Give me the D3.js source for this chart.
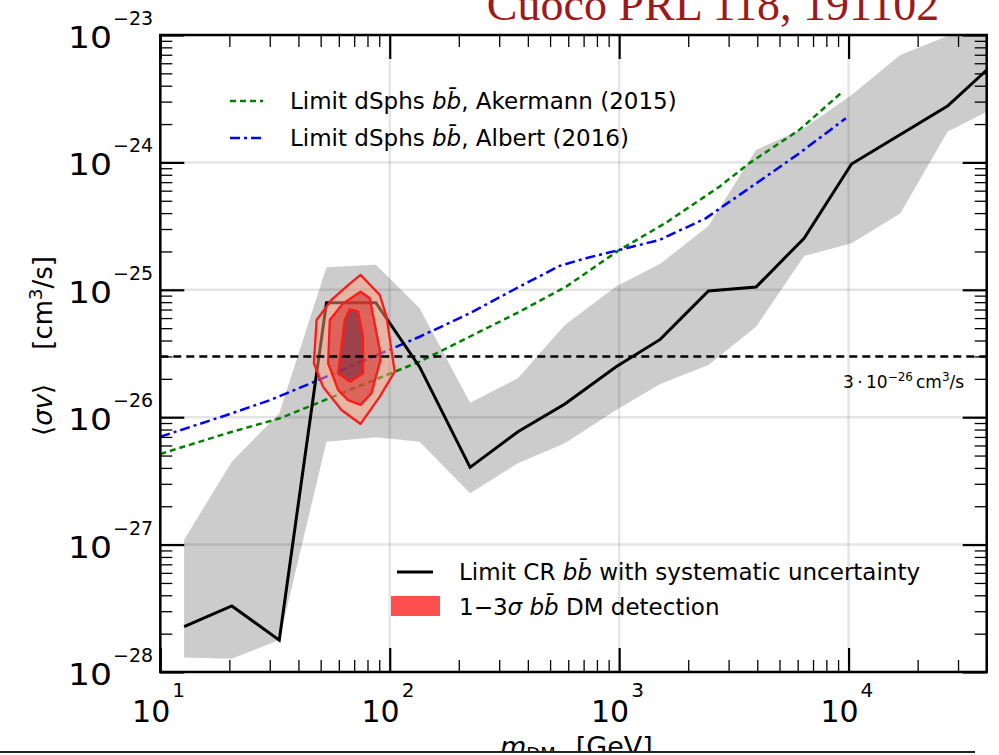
<!DOCTYPE html>
<html>
<head>
<meta charset="utf-8">
<script src="https://cdn.jsdelivr.net/npm/d3@7"></script>
<style>
  body { margin: 0; background: #fff; }
  svg { display: block; font-family: "DejaVu Sans", sans-serif; }
</style>
</head>
<body>
<svg id="chart" width="999" height="755"></svg>
<script>

// data (mass in GeV, <sigma v> in cm^3/s)
const massGrid  = [12.7, 20.5, 33, 53, 87, 135, 224, 362, 580, 970, 1510, 2450, 3950, 6400, 10300, 16800, 27000, 40000];
const limitCR   = [2.27e-28, 3.30e-28, 1.78e-28, 7.92e-26, 7.92e-26, 2.48e-26, 4.04e-27, 7.69e-27, 1.27e-26, 2.49e-26, 4.08e-26, 9.79e-26, 1.05e-25, 2.54e-25, 9.71e-25, null, 2.77e-24, 5.31e-24];
const bandUpper = [1.09e-27, 4.48e-27, 1.07e-26, 1.50e-25, 1.57e-25, 7.16e-26, 1.30e-26, 2.02e-26, 5.29e-26, 1.06e-25, 1.60e-25, 3.17e-25, 1.25e-24, 1.85e-24, 3.38e-24, 6.97e-24, 9.8e-24, 1.4e-23];
const bandLower = [1.30e-28, 1.27e-28, 1.78e-28, 6.42e-27, 6.95e-27, 6.42e-27, 2.53e-27, 4.35e-27, 6.24e-27, 1.14e-26, 1.82e-26, 2.57e-26, 5.13e-26, 1.84e-25, 2.32e-25, 3.98e-25, 1.74e-24, 2.50e-24];

const massAkermann  = [10, 19.5, 33.2, 53, 135, 223, 368, 588, 1000, 1600, 2735, 3690, 6100, 9420];
const limitAkermann = [5.14e-27, 7.48e-27, 9.8e-27, 1.38e-26, 2.73e-26, 4.28e-26, 6.73e-26, 1.06e-25, 2.05e-25, 3.36e-25, 6.45e-25, 9.84e-25, 1.80e-24, 3.59e-24];

const massAlbert  = [10, 19.5, 30, 47, 135, 223, 368, 550, 716, 1073, 1497, 2384, 3955, 6100, 9726];
const limitAlbert = [7.03e-27, 1.04e-26, 1.36e-26, 1.90e-26, 4.28e-26, 6.54e-26, 1.06e-25, 1.54e-25, 1.77e-25, 2.12e-25, 2.46e-25, 3.64e-25, 6.85e-25, 1.18e-24, 2.22e-24];

// detection contours [mass, sigmav]
const contour3sig = [[74.6,1.31e-25],[90.5,9.10e-26],[96.8,6.15e-26],[105.1,2.28e-26],[90.5,1.45e-26],[74.6,8.85e-27],[61.6,1.14e-26],[51.2,1.73e-26],[46.7,2.65e-26],[47.2,3.58e-26],[48.0,5.79e-26],[55.7,8.32e-26],[67.0,1.12e-25]];
const contour2sig = [[74.6,9.66e-26],[81.8,8.58e-26],[90.5,3.37e-26],[91.1,2.81e-26],[83.2,1.54e-26],[74.6,1.25e-26],[65.8,1.36e-26],[59.6,1.63e-26],[53.9,2.65e-26],[54.8,5.79e-26],[62.6,7.83e-26]];
const contour1sig = [[67.0,7.03e-26],[72.8,6.73e-26],[76.5,4.28e-26],[76.5,2.21e-26],[67.0,1.90e-26],[59.6,2.21e-26],[61.6,3.58e-26],[63.7,5.79e-26]];

const thermalXsec = 3e-26;

// tick labels (exponents)
const xDecades = [1, 2, 3, 4];
const yDecades = [-28, -27, -26, -25, -24, -23];


function drawChart() {

  const svg = d3.select('#chart');

  const padLeft = 160.3, padRight = 986.7, padTop = 35, padBottom = 672;

  // scales
  const x = d3.scaleLog().domain([10, 4e4]).range([padLeft, padRight]);
  const y = d3.scaleLog().domain([1e-28, 1e-23]).range([padBottom, padTop]);

  const xMinor = [], yMinor = [];
  xDecades.forEach(n => d3.range(2, 10).forEach(k => { if (k * 10 ** n <= 4e4) xMinor.push(k * 10 ** n) }));
  yDecades.slice(0, -1).forEach(n => d3.range(2, 10).forEach(k => yMinor.push(k * 10 ** n)));
  const xMajor = xDecades.map(n => 10 ** n);
  const yMajor = yDecades.map(n => 10 ** n);

  // clip
  svg.append('defs').append('clipPath').attr('id', 'plotClip')
    .append('rect')
    .attr('x', padLeft).attr('y', padTop)
    .attr('width', padRight - padLeft).attr('height', padBottom - padTop);

  // slide title (cut at top)
  svg.append('text')
    .attr('x', 713).attr('y', 20)
    .attr('text-anchor', 'middle')
    .style('font-family', '"Liberation Serif", serif')
    .style('font-size', '46px')
    .style('fill', '#9e1a1a')
    .text('Cuoco PRL 118, 191102');

  const plot = svg.append('g').attr('clip-path', 'url(#plotClip)');

  // uncertainty band
  const bandData = massGrid.map((m, i) => ({ m: m, lo: bandLower[i], hi: bandUpper[i] }));
  plot.append('path')
    .datum(bandData)
    .attr('d', d3.area().x(d => x(d.m)).y0(d => y(d.lo)).y1(d => y(d.hi)))
    .style('fill', '#cccccc');

  // grid
  plot.selectAll('.gridX').data(xMajor)
    .join('line')
    .attr('class', 'gridX')
    .attr('x1', d => x(d)).attr('x2', d => x(d))
    .attr('y1', padTop).attr('y2', padBottom)
    .style('stroke', 'rgba(0,0,0,0.1)')
    .style('stroke-width', 2.5);

  plot.selectAll('.gridY').data(yMajor)
    .join('line')
    .attr('class', 'gridY')
    .attr('x1', padLeft).attr('x2', padRight)
    .attr('y1', d => y(d)).attr('y2', d => y(d))
    .style('stroke', 'rgba(0,0,0,0.1)')
    .style('stroke-width', 2.5);

  // dSph limits
  const lineXY = d3.line().x(d => x(d[0])).y(d => y(d[1]));

  plot.append('path')
    .datum(massAkermann.map((m, i) => [m, limitAkermann[i]]))
    .attr('d', lineXY)
    .style('fill', 'none')
    .style('stroke', '#008000')
    .style('stroke-width', 2.5)
    .style('stroke-dasharray', '6,4');

  plot.append('path')
    .datum(massAlbert.map((m, i) => [m, limitAlbert[i]]))
    .attr('d', lineXY)
    .style('fill', 'none')
    .style('stroke', '#0000ff')
    .style('stroke-width', 2.5)
    .style('stroke-dasharray', '10,4,3,4');

  // CR limit
  plot.append('path')
    .datum(massGrid.map((m, i) => [m, limitCR[i]]).filter(d => d[1] != null))
    .attr('d', lineXY)
    .style('fill', 'none')
    .style('stroke', '#000')
    .style('stroke-width', 3);

  // detection contours
  const closed = d3.line().x(d => x(d[0])).y(d => y(d[1])).curve(d3.curveLinearClosed);
  const contours = [
    { pts: contour3sig, fill: 'rgb(255,160,126)', op: 0.5 },
    { pts: contour2sig, fill: 'rgb(215,45,40)', op: 0.6 },
    { pts: contour1sig, fill: 'rgb(117,42,65)', op: 0.6 }
  ];
  plot.selectAll('.contour').data(contours)
    .join('path')
    .attr('class', 'contour')
    .attr('d', d => closed(d.pts))
    .style('fill', d => d.fill)
    .style('fill-opacity', d => d.op)
    .style('stroke', '#ff1a1a')
    .style('stroke-width', 2.3)
    .style('stroke-linejoin', 'round');

  // thermal cross section
  plot.append('line')
    .attr('x1', padLeft).attr('x2', padRight)
    .attr('y1', y(thermalXsec)).attr('y2', y(thermalXsec))
    .style('stroke', '#000')
    .style('stroke-width', 2.5)
    .style('stroke-dasharray', '8,5');

  const th = svg.append('text')
    .attr('x', 843).attr('y', y(thermalXsec) + 32)
    .style('font-size', '17px');
  th.append('tspan').text('3\u2009\u00b7\u200910');
  th.append('tspan').attr('dy', -7).style('font-size', '12px').text('\u221226');
  th.append('tspan').attr('dy', 7).attr('dx', 3).text('cm');
  th.append('tspan').attr('dy', -7).style('font-size', '12px').text('3');
  th.append('tspan').attr('dy', 7).text('/s');

  // axes ticks (inward on all sides)
  const axes = [
    { ax: d3.axisBottom(x), t: `translate(0,${padBottom})`, major: xMajor, minor: xMinor },
    { ax: d3.axisTop(x), t: `translate(0,${padTop})`, major: xMajor, minor: xMinor },
    { ax: d3.axisLeft(y), t: `translate(${padLeft},0)`, major: yMajor, minor: yMinor },
    { ax: d3.axisRight(y), t: `translate(${padRight},0)`, major: yMajor, minor: yMinor }
  ];
  axes.forEach(a => {
    svg.append('g').attr('transform', a.t)
      .call(a.ax.tickValues(a.minor).tickSize(-12).tickFormat(''))
      .call(g => g.select('.domain').remove())
      .selectAll('line').style('stroke', '#000').style('stroke-width', 1.3);
    svg.append('g').attr('transform', a.t)
      .call(a.ax.tickValues(a.major).tickSize(-24).tickFormat(''))
      .call(g => g.select('.domain').remove())
      .selectAll('line').style('stroke', '#000').style('stroke-width', 2.2);
  });

  // frame
  svg.append('rect')
    .attr('x', padLeft).attr('y', padTop)
    .attr('width', padRight - padLeft).attr('height', padBottom - padTop)
    .style('fill', 'none')
    .style('stroke', '#000')
    .style('stroke-width', 2.5);

  // tick labels
  svg.selectAll('.yBase').data(yDecades)
    .join('text')
    .attr('class', 'yBase')
    .attr('x', 112).attr('y', d => y(10 ** d) + 13)
    .attr('text-anchor', 'end')
    .attr('textLength', 44)
    .attr('lengthAdjust', 'spacingAndGlyphs')
    .style('font-size', '31px')
    .text('10');
  svg.selectAll('.yExp').data(yDecades)
    .join('text')
    .attr('class', 'yExp')
    .attr('x', 113).attr('y', d => y(10 ** d) - 10)
    .style('font-size', '19px')
    .text(d => '\u2212' + Math.abs(d));

  svg.selectAll('.xBase').data(xDecades)
    .join('text')
    .attr('class', 'xBase')
    .attr('x', d => x(10 ** d) + 10).attr('y', 722)
    .attr('text-anchor', 'end')
    .style('font-size', '30px')
    .text('10');
  svg.selectAll('.xExp').data(xDecades)
    .join('text')
    .attr('class', 'xExp')
    .attr('x', d => x(10 ** d) + 12).attr('y', 697)
    .style('font-size', '20px')
    .text(d => d);

  // axis titles
  const yt = svg.append('text')
    .attr('transform', 'translate(52,346) rotate(-90)')
    .attr('text-anchor', 'middle')
    .style('font-size', '26px');
  yt.append('tspan').text('\u27e8');
  yt.append('tspan').style('font-style', 'italic').text('\u03c3v');
  yt.append('tspan').text('\u27e9');
  yt.append('tspan').attr('dx', 34).text('[cm');
  yt.append('tspan').attr('dy', -10).style('font-size', '18px').text('3');
  yt.append('tspan').attr('dy', 10).text('/s]');

  const xt = svg.append('text')
    .attr('x', 500).attr('y', 756)
    .style('font-size', '27px');
  xt.append('tspan').style('font-style', 'italic').text('m');
  xt.append('tspan').attr('dy', 4).style('font-size', '18px').text('DM');
  xt.append('tspan').attr('dy', -4).attr('dx', 20).text('[GeV]');

  svg.append('rect').attr('x', 0).attr('y', 752).attr('width', 999).attr('height', 3).style('fill', '#fff');
  svg.append('line')
    .attr('x1', 0).attr('x2', 975).attr('y1', 752).attr('y2', 752)
    .style('stroke', '#222').style('stroke-width', 2);

  // legends
  const bb = sel => {
    sel.append('tspan').style('font-style', 'italic').text('b');
    sel.append('tspan').style('font-style', 'italic').text('b\u0304');
  };

  const topLegend = [
    { y: 101, color: '#008000', dash: '6,4', label: ', Akermann (2015)' },
    { y: 138, color: '#0000ff', dash: '10,4,3,4', label: ', Albert (2016)' }
  ];
  topLegend.forEach(d => {
    svg.append('line')
      .attr('x1', 230).attr('x2', 263).attr('y1', d.y).attr('y2', d.y)
      .style('stroke', d.color).style('stroke-width', 2.5).style('stroke-dasharray', d.dash);
    const t = svg.append('text').attr('x', 290).attr('y', d.y + 8).style('font-size', '23px');
    t.append('tspan').text('Limit dSphs ');
    bb(t);
    t.append('tspan').text(d.label);
  });

  svg.append('line')
    .attr('x1', 397).attr('x2', 433).attr('y1', 572).attr('y2', 572)
    .style('stroke', '#000').style('stroke-width', 3);
  const l1 = svg.append('text').attr('x', 459).attr('y', 580).style('font-size', '23px');
  l1.append('tspan').text('Limit CR ');
  bb(l1);
  l1.append('tspan').text(' with systematic uncertainty');

  svg.append('rect')
    .attr('x', 391).attr('y', 596).attr('width', 49).attr('height', 20)
    .style('fill', '#ff5050');
  const l2 = svg.append('text').attr('x', 459).attr('y', 615).style('font-size', '23px');
  l2.append('tspan').text('1\u22123');
  l2.append('tspan').style('font-style', 'italic').text('\u03c3 ');
  bb(l2);
  l2.append('tspan').text(' DM detection');
}

drawChart();

</script>
</body>
</html>
